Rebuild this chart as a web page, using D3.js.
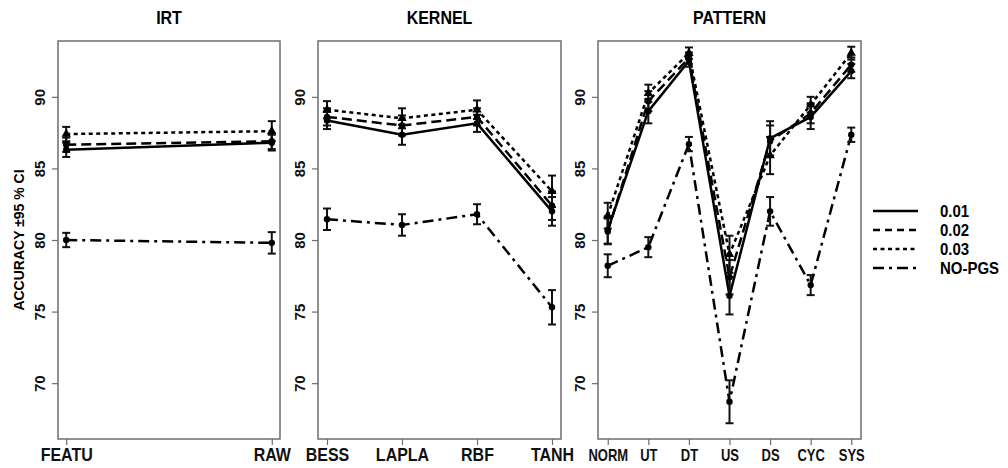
<!DOCTYPE html>
<html>
<head>
<meta charset="utf-8">
<script src="https://cdn.jsdelivr.net/npm/d3@7"></script>
<style>
  body { margin: 0; background: #fff; }
  text { font-family: "Liberation Sans", Arial, Helvetica, sans-serif; font-weight: bold; }
</style>
</head>
<body>
<div id="chart"></div>
<script>
// categories
var irtCats = ["FEATU", "RAW"];
var kernelCats = ["BESS", "LAPLA", "RBF", "TANH"];
var patternCats = ["NORM", "UT", "DT", "US", "DS", "CYC", "SYS"];

var seriesNames = ["0.01", "0.02", "0.03", "NO-PGS"];
var yTicks = [70, 75, 80, 85, 90];

// IRT means and CI half widths
var irt01 = [86.3, 86.8],   irt01ci = [0.5, 0.55];
var irt02 = [86.65, 86.9],  irt02ci = [0.5, 0.55];
var irt03 = [87.4, 87.6],   irt03ci = [0.5, 0.7];
var irtNo = [80.0, 79.8],   irtNoci = [0.5, 0.75];

// KERNEL
var ker01 = [88.35, 87.35, 88.15, 82.0], ker01ci = [0.6, 0.7, 0.6, 1.0];
var ker02 = [88.6, 88.0, 88.6, 82.4],    ker02ci = [0.6, 0.7, 0.6, 1.0];
var ker03 = [89.1, 88.5, 89.1, 83.4],    ker03ci = [0.6, 0.7, 0.65, 1.1];
var kerNo = [81.45, 81.05, 81.8, 75.3],  kerNoci = [0.75, 0.75, 0.7, 1.2];

// PATTERN
var pat01 = [80.7, 89.0, 92.5, 76.1, 87.1, 88.6, 91.8],     pat01ci = [0.95, 0.85, 0.4, 1.3, 1.2, 0.85, 0.5];
var pat02 = [80.6, 89.7, 92.7, 77.4, 86.9, 88.85, 92.25],   pat02ci = [0.9, 0.7, 0.4, 1.2, 1.1, 0.7, 0.5];
var pat03 = [81.7, 90.25, 93.05, 79.0, 85.9, 89.45, 93.05], pat03ci = [0.9, 0.6, 0.4, 1.3, 1.3, 0.55, 0.45];
var patNo = [78.2, 79.5, 86.7, 68.7, 82.0, 76.85, 87.35],   patNoci = [0.8, 0.7, 0.5, 1.5, 1.0, 0.7, 0.5];

var panels = [
  {title: "IRT", cats: irtCats, left: 58, right: 280, font: 16, stretch: 1.12,
   series: [[irt01, irt01ci], [irt02, irt02ci], [irt03, irt03ci], [irtNo, irtNoci]]},
  {title: "KERNEL", cats: kernelCats, left: 318, right: 561, font: 16, stretch: 1.12,
   series: [[ker01, ker01ci], [ker02, ker02ci], [ker03, ker03ci], [kerNo, kerNoci]]},
  {title: "PATTERN", cats: patternCats, left: 598, right: 861, font: 13, stretch: 1.3,
   series: [[pat01, pat01ci], [pat02, pat02ci], [pat03, pat03ci], [patNo, patNoci]]}
];

var plotTop = 41, plotBottom = 439;
var dashes = ["none", "10,5", "4,3.5", "11,5,3,5"];

var svg = d3.select("#chart").append("svg")
    .attr("width", 1008)
    .attr("height", 468);

var y = d3.scaleLinear().domain([66.1, 93.9]).range([plotBottom, plotTop]);

var line = d3.line();

panels.forEach(function(p) {
    var n = p.cats.length;
    var x = d3.scalePoint()
        .domain(p.cats)
        .range([p.left, p.right])
        .padding(0.04 * (n - 1));

    var g = svg.append("g");

    // box
    g.append("rect")
        .attr("x", p.left).attr("y", plotTop)
        .attr("width", p.right - p.left).attr("height", plotBottom - plotTop)
        .attr("fill", "none").attr("stroke", "#6e6e6e").attr("stroke-width", 1.5);

    // y axis, labels rotated like R
    var ya = g.append("g")
        .attr("transform", "translate(" + p.left + ",0)")
        .call(d3.axisLeft(y).tickValues(yTicks).tickSize(6));
    ya.select(".domain").remove();
    ya.selectAll("line").attr("stroke", "#6e6e6e").attr("stroke-width", 1.2);
    ya.selectAll("text")
        .attr("transform", "translate(-18,0) rotate(-90)")
        .attr("x", 0).attr("y", 0).attr("dy", "0.36em")
        .style("text-anchor", "middle")
        .style("font-size", "15px")
        .attr("fill", "#111");

    // x axis
    var xa = g.append("g")
        .attr("transform", "translate(0," + plotBottom + ")")
        .call(d3.axisBottom(x).tickSize(6));
    xa.select(".domain").remove();
    xa.selectAll("line").attr("stroke", "#6e6e6e").attr("stroke-width", 1.2);
    xa.selectAll("text")
        .style("font-size", p.font + "px")
        .attr("fill", "#111")
        .attr("y", 0).attr("dy", 0)
        .attr("transform", "translate(0,22) scale(1," + p.stretch + ")");

    // title
    g.append("text")
        .attr("transform", "translate(" + (p.left + p.right) / 2 + ",24) scale(1,1.1)")
        .attr("text-anchor", "middle")
        .style("font-size", "16px")
        .text(p.title);

    // lines
    p.series.forEach(function(s, i) {
        g.append("path")
            .attr("d", line(s[0].map(function(v, j) { return [x(p.cats[j]), y(v)]; })))
            .attr("fill", "none")
            .attr("stroke", "#000")
            .attr("stroke-width", 2.5)
            .attr("stroke-dasharray", dashes[i]);
    });

    // error bars
    p.series.forEach(function(s, i) {
        s[0].forEach(function(v, j) {
            var cx = x(p.cats[j]);
            var lo = y(v - s[1][j]), hi = y(v + s[1][j]);
            g.append("line").attr("x1", cx).attr("x2", cx).attr("y1", lo).attr("y2", hi)
                .attr("stroke", "#111").attr("stroke-width", 2);
            [lo, hi].forEach(function(yy) {
                g.append("line").attr("x1", cx - 4).attr("x2", cx + 4).attr("y1", yy).attr("y2", yy)
                    .attr("stroke", "#111").attr("stroke-width", 2);
            });
        });
    });

    // markers
    p.series.forEach(function(s, i) {
        s[0].forEach(function(v, j) {
            if (i == 2) {
                g.append("path")
                    .attr("d", d3.symbol().type(d3.symbolTriangle).size(38)())
                    .attr("transform", "translate(" + x(p.cats[j]) + "," + y(v) + ")")
                    .attr("fill", "#000");
            } else {
                g.append("circle")
                    .attr("cx", x(p.cats[j])).attr("cy", y(v)).attr("r", 3.2)
                    .attr("fill", "#000");
            }
        });
    });
});

// y label
svg.append("text")
    .attr("transform", "translate(24,240) rotate(-90)")
    .attr("text-anchor", "middle")
    .style("font-size", "14px")
    .text("ACCURACY \u00B195 % CI");

// legend
var legend = svg.append("g");
seriesNames.forEach(function(name, i) {
    var ly = 211 + i * 19;
    legend.append("line")
        .attr("x1", 873).attr("x2", 918).attr("y1", ly).attr("y2", ly)
        .attr("stroke", "#000").attr("stroke-width", 2.5)
        .attr("stroke-dasharray", i == 1 ? "7,5" : dashes[i]);
    legend.append("text")
        .attr("transform", "translate(940," + (ly + 5.5) + ") scale(1,1.1)")
        .style("font-size", "15px")
        .text(name);
});
</script>
</body>
</html>
